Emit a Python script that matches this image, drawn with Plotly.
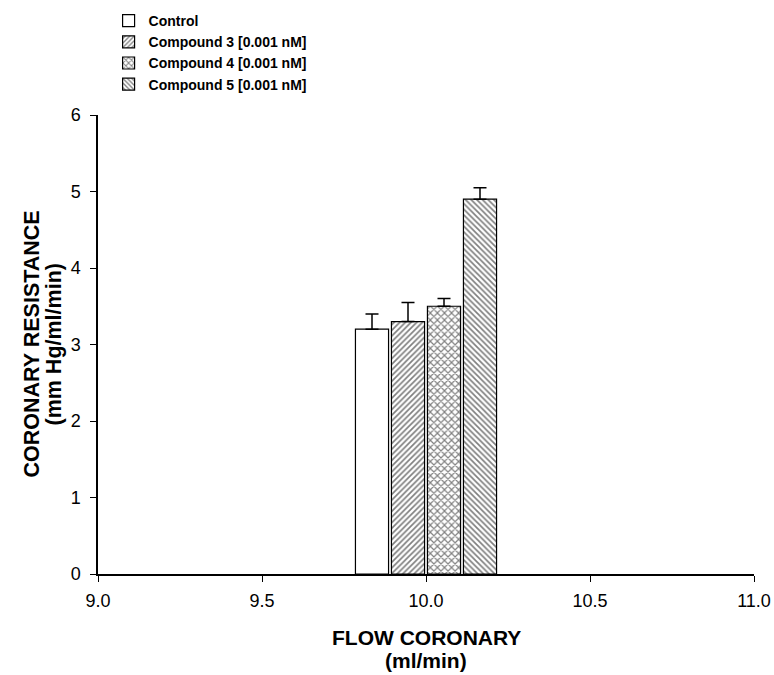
import plotly.graph_objects as go

# Data
flow = [10.0]
series_names = ["Control", "Compound 3 [0.001 nM]", "Compound 4 [0.001 nM]", "Compound 5 [0.001 nM]"]
resistance = [3.2, 3.3, 3.5, 4.9]
err_plus = [0.2, 0.25, 0.1, 0.15]
patterns = ["", "/", "x", "\\"]
pattern_sizes = [4, 4, 5, 4]

x_ticks = [9.0, 9.5, 10.0, 10.5, 11.0]
y_ticks = [0, 1, 2, 3, 4, 5, 6]

FONT = "Arial, Liberation Sans, sans-serif"

fig = go.Figure()
for name, val, err, pat, psz in zip(series_names, resistance, err_plus, patterns, pattern_sizes):
    fig.add_trace(go.Bar(
        x=flow, y=[val], name=name,
        marker=dict(color="white", line=dict(color="black", width=1.2),
                    pattern=dict(shape=pat, fgcolor="black", bgcolor="white",
                                 size=psz, solidity=0.42, fillmode="overlay")),
        error_y=dict(type="data", array=[err], arrayminus=[0], symmetric=False,
                     color="black", thickness=1.5, width=6.5),
    ))

fig.update_layout(
    width=774, height=675,
    barmode="group", bargap=0.561, bargroupgap=0.08,
    plot_bgcolor="white", paper_bgcolor="white",
    margin=dict(l=98, r=20, t=115, b=101, autoexpand=False),
    font=dict(family=FONT, color="black", size=18),
    showlegend=True,
    legend=dict(xref="container", yref="container", x=0.1403, y=0.9926,
                xanchor="left", yanchor="top",
                font=dict(family=FONT, size=14, color="black", weight="bold"),
                bgcolor="rgba(0,0,0,0)", itemwidth=30, tracegroupgap=0),
)
fig.update_xaxes(range=[9.0, 11.0], tickvals=x_ticks, ticktext=[f"{v:.1f}" for v in x_ticks],
                 showgrid=False, zeroline=False, showline=True, linecolor="black", linewidth=1.5,
                 ticks="outside", ticklen=6, tickcolor="black", tickwidth=1,
                 tickfont=dict(size=18, family=FONT), ticklabelstandoff=4)
fig.update_yaxes(range=[0, 6], tickvals=y_ticks,
                 showgrid=False, zeroline=False, showline=True, linecolor="black", linewidth=1.5,
                 ticks="outside", ticklen=6, tickcolor="black", tickwidth=1,
                 tickfont=dict(size=18, family=FONT), ticklabelstandoff=6)

title_font = dict(family=FONT, size=21, color="black", weight="bold")
ytitle_font = dict(family=FONT, size=21.5, color="black", weight="bold")
fig.add_annotation(text="CORONARY RESISTANCE", xref="paper", yref="paper", x=(31 - 98) / 656, y=0.5,
                   xanchor="center", yanchor="middle", textangle=-90, showarrow=False, font=ytitle_font)
fig.add_annotation(text="(mm Hg/ml/min)", xref="paper", yref="paper", x=(53 - 98) / 656, y=0.5,
                   xanchor="center", yanchor="middle", textangle=-90, showarrow=False, font=ytitle_font)
fig.add_annotation(text="FLOW CORONARY", xref="paper", yref="paper", x=0.5, y=(574 - 637) / 459,
                   xanchor="center", yanchor="middle", showarrow=False, font=title_font)
fig.add_annotation(text="(ml/min)", xref="paper", yref="paper", x=0.5, y=(574 - 660) / 459,
                   xanchor="center", yanchor="middle", showarrow=False, font=title_font)

fig.write_html("out.html", config={"displayModeBar": False},
               post_script="document.body.style.margin='0';")
